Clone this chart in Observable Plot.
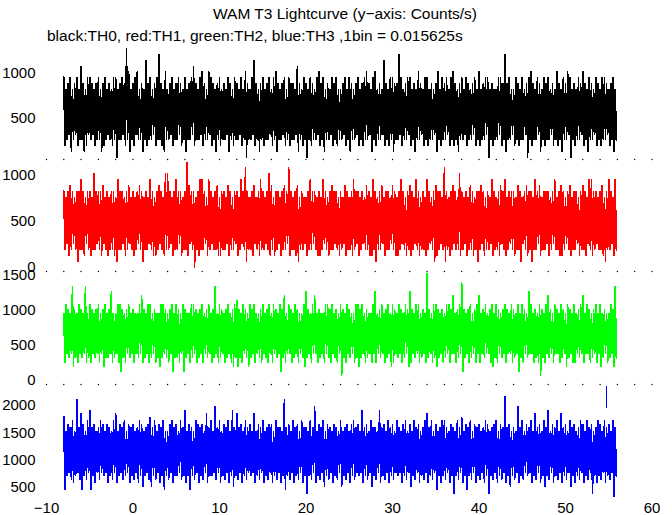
<!DOCTYPE html>
<html>
<head>
<meta charset="utf-8">
<script src="https://cdn.jsdelivr.net/npm/d3@7"></script>
<script src="https://cdn.jsdelivr.net/npm/@observablehq/plot@0.6"></script>
<style>
  html, body { margin: 0; padding: 0; background: #fff; }
  #wrap { position: relative; width: 672px; height: 515px; font-family: "Liberation Sans", Arial, sans-serif; }
  #wrap svg { position: absolute; left: 0; top: 0; background: transparent; }
  .ttl { position: absolute; font-size: 15.5px; color: #000; white-space: nowrap; line-height: 1; }
</style>
</head>
<body>
<div id="wrap">
  <div class="ttl" id="title" style="left:0;width:690px;text-align:center;top:6px;">WAM T3 Lightcurve (y&#8722;axis: Counts/s)</div>
  <div class="ttl" id="sub" style="left:47px;top:28px;">black:TH0, red:TH1, green:TH2, blue:TH3 ,1bin = 0.015625s</div>
</div>
<script>
// ---- data: per 0.25 s segment, highest and lowest counts in a 1/64 s bin ----
const binSize = 0.015625;           // s
const tStart = -8, segStep = 0.25;  // s

const th0Hi = [
  15,13,14,15,13,14,15,13,17,14,13,15,15,14,13,14,
  15,13,14,15,13,14,13,15,15,13,14,15,14,20,16,13,
  14,15,16,13,14,13,18,14,15,13,14,15,19,14,13,16,
  13,14,15,13,14,15,14,13,15,13,14,15,17,14,13,15,
  16,14,13,16,15,14,13,14,15,13,14,13,15,14,13,15,
  14,13,15,13,16,14,13,15,18,14,13,14,15,13,14,15,
  13,15,16,14,13,14,15,13,15,14,14,13,17,14,13,15,
  14,13,15,14,13,15,16,14,15,13,14,13,15,14,15,13,
  13,14,15,13,15,14,13,14,15,13,14,15,16,14,13,15,
  16,13,14,13,18,14,13,15,15,14,14,19,15,13,14,15,
  15,13,14,13,16,14,13,15,15,13,14,13,14,16,13,15,
  14,15,13,15,16,14,13,14,15,13,15,14,13,14,15,13,
  16,13,14,15,15,13,14,13,13,15,15,14,19,14,15,13,
  13,15,14,13,15,13,14,15,16,14,13,15,14,13,15,14,
  15,13,14,13,16,14,13,15,14,16,15,13,14,13,15,14,
  16,14,13,15,14,13,15,14,13,15,15,14,13,14,15,13];
const th0Lo = [
  3,4,5,2,4,5,3,4,4,2,3,5,4,5,3,4,
  4,2,3,4,5,4,3,4,1,4,4,5,3,4,2,4,
  3,5,4,4,2,4,3,4,4,5,3,4,4,3,2,4,
  4,5,3,4,4,5,3,4,2,4,4,5,3,4,4,5,
  3,4,4,5,3,4,2,4,3,4,4,5,2,4,3,4,
  4,5,3,4,1,4,4,5,3,4,2,4,3,4,4,5,
  3,4,2,4,4,5,3,4,3,4,4,5,2,4,3,4,
  1,4,3,4,4,5,3,4,2,4,4,5,3,4,3,4,
  4,5,3,4,2,4,4,5,3,4,3,4,4,5,2,4,
  3,4,4,5,3,4,3,4,2,4,4,5,3,4,4,5,
  3,4,2,4,4,5,3,4,3,4,4,5,2,4,3,4,
  4,5,3,4,3,4,2,4,4,5,3,4,4,5,3,4,
  3,4,4,5,1,4,3,4,4,5,3,4,2,4,4,5,
  3,4,3,4,4,5,1,4,3,4,4,5,2,4,3,4,
  4,5,3,4,3,4,2,4,4,5,1,4,3,4,4,5,
  3,4,2,4,4,5,3,4,3,4,4,5,3,4,2,4];

const th1Hi = [
  13,12,13,14,13,12,13,13,15,13,12,13,13,12,16,13,
  13,13,14,12,13,12,13,13,12,15,13,13,12,13,14,12,
  13,12,13,14,13,12,13,12,15,13,12,13,14,13,12,16,
  16,13,12,13,15,13,13,12,13,18,14,13,13,12,13,15,
  15,13,12,15,13,12,13,14,12,13,13,12,14,13,12,13,
  13,12,15,13,17,13,12,13,14,12,13,15,13,12,13,16,
  14,12,13,13,12,13,14,13,17,13,12,13,14,12,13,12,
  12,13,15,13,13,12,13,12,15,13,12,13,14,13,13,12,
  13,12,14,13,12,13,15,13,13,12,13,12,14,13,12,15,
  13,12,13,14,12,13,13,12,14,13,12,13,15,13,12,13,
  14,13,12,15,13,12,13,12,15,13,12,13,14,13,13,12,
  17,13,12,13,14,13,12,16,13,12,13,12,14,13,12,13,
  13,14,13,12,13,12,15,13,12,13,14,13,15,12,13,13,
  13,12,14,13,12,13,14,13,13,12,15,13,14,12,13,13,
  13,12,13,15,12,13,14,13,12,13,14,12,13,13,12,13,
  14,13,12,15,15,13,13,12,13,14,12,13,15,13,12,15];
const th1Lo = [
  3,4,2,3,4,3,1,3,3,2,4,3,2,3,3,4,
  3,2,4,3,2,3,3,2,1,3,3,4,2,3,4,3,
  2,3,4,3,1,3,3,4,3,2,2,3,4,3,2,3,
  3,4,2,3,3,4,2,3,3,2,4,3,0,3,2,3,
  3,4,2,3,4,3,3,2,2,3,3,4,2,3,3,4,
  2,3,4,3,1,3,3,2,4,3,2,3,3,4,3,2,
  3,2,3,4,2,3,3,4,2,3,3,2,1,3,3,4,
  2,3,3,4,3,2,2,3,4,3,2,3,3,4,3,2,
  3,4,2,3,3,2,3,4,2,3,4,3,3,2,2,3,
  1,3,3,4,2,3,3,4,3,2,2,3,4,3,2,3,
  2,3,4,3,2,3,3,2,3,4,3,1,2,3,4,3,
  1,3,2,3,4,3,3,2,3,4,2,3,3,2,3,1,
  3,4,2,3,3,4,2,3,3,2,4,3,2,3,4,3,
  2,3,3,1,4,3,2,3,1,3,3,4,2,3,3,4,
  2,3,4,3,3,2,2,3,4,3,2,3,3,4,2,3,
  3,2,4,3,2,3,4,3,3,2,1,3,3,4,2,3];

const th2Hi = [
  15,17,16,15,21,16,15,17,16,15,21,15,17,16,15,16,
  17,15,16,17,15,16,20,15,15,17,17,16,15,16,17,15,
  16,15,15,17,19,16,15,17,17,15,16,15,15,17,17,16,
  15,16,17,15,17,16,15,17,16,15,15,17,17,16,15,16,
  17,15,16,17,15,16,21,15,17,16,15,16,17,15,16,17,
  18,16,15,17,16,15,17,16,17,15,15,16,17,15,16,17,
  15,17,16,15,17,16,19,15,17,16,15,17,16,15,15,17,
  20,16,15,17,19,15,16,15,15,17,17,16,17,15,16,15,
  17,16,15,17,16,15,15,17,17,16,17,15,16,15,15,17,
  20,15,16,17,15,16,17,15,17,16,15,17,16,15,17,16,
  20,16,15,17,17,15,16,15,24,16,15,17,17,16,15,16,
  15,17,17,16,19,15,16,17,22,16,15,16,17,15,16,17,
  19,15,16,17,15,16,17,15,17,16,15,16,17,16,15,17,
  16,15,17,15,17,16,15,20,17,15,16,15,17,16,15,17,
  19,16,15,17,16,15,17,16,15,17,16,15,17,15,16,17,
  19,15,17,16,15,16,17,15,17,15,16,15,15,17,16,21];
const th2Lo = [
  4,6,5,6,3,5,4,6,5,6,4,5,4,6,5,6,
  4,6,3,5,5,6,4,5,6,4,2,5,4,6,5,6,
  4,6,5,6,4,5,6,4,5,6,4,5,3,5,6,5,
  4,6,2,5,5,4,6,2,5,6,4,5,6,4,5,6,
  4,6,5,6,4,5,6,4,5,6,4,5,6,4,3,5,
  3,5,4,6,5,3,5,6,4,6,5,4,6,5,4,6,
  4,6,5,6,2,5,4,6,6,4,5,6,4,6,5,3,
  5,6,4,6,6,4,5,6,4,6,5,4,6,5,4,6,
  1,5,4,6,5,6,4,5,3,5,6,4,5,6,4,6,
  4,6,5,6,4,5,6,3,4,6,5,6,4,5,6,3,
  4,6,5,6,4,5,6,4,5,6,4,5,3,5,6,4,
  5,6,4,6,6,4,5,6,2,5,6,4,5,6,4,6,
  4,6,5,6,6,4,3,5,4,6,5,6,4,6,6,4,
  5,6,2,5,4,6,5,6,6,4,5,4,1,5,4,6,
  5,6,4,6,6,4,5,6,3,5,6,4,4,6,5,6,
  4,6,6,4,5,6,4,6,3,5,6,4,5,6,3,5];

const th3Hi = [
  28,24,26,25,27,24,33,25,29,26,24,27,30,25,26,24,
  25,27,26,24,26,25,24,27,29,24,26,25,27,24,26,25,
  26,24,25,27,26,24,25,26,28,25,27,24,26,25,27,24,
  24,26,27,25,26,24,27,25,30,24,26,25,24,27,26,25,
  26,24,29,25,27,24,31,25,27,24,26,25,27,24,30,25,
  29,25,26,24,27,25,26,24,29,24,26,25,27,24,25,26,
  26,24,27,25,25,24,33,25,26,24,27,25,26,24,27,25,
  25,24,27,25,31,24,26,25,27,24,26,25,24,26,25,24,
  27,24,25,26,24,26,27,25,26,24,30,25,26,24,27,25,
  25,24,30,25,26,24,27,25,26,24,27,25,24,26,27,24,
  26,24,27,25,26,24,25,27,29,25,27,24,26,24,25,27,
  27,25,24,26,25,24,27,25,28,24,26,25,27,24,26,25,
  26,24,25,27,26,24,25,26,27,24,26,25,34,25,26,24,
  25,24,31,25,27,24,26,25,27,24,29,25,26,24,27,25,
  30,24,26,25,27,24,29,25,26,24,27,25,26,24,25,27,
  26,24,27,25,26,24,25,27,26,24,27,25,26,24,27,25];
const th3Lo = [
  7,11,12,10,9,11,12,10,7,11,10,12,7,11,9,12,
  10,12,11,12,9,11,10,12,9,11,12,10,11,12,9,11,
  10,12,9,11,8,11,12,10,8,11,10,12,9,11,7,11,
  10,12,9,11,11,12,10,11,9,11,7,11,10,12,9,11,
  10,12,9,11,11,12,10,12,9,11,10,12,9,11,8,11,
  10,12,9,11,10,12,11,12,9,11,10,12,9,11,10,12,
  9,11,10,12,9,11,7,11,10,12,9,11,10,12,9,11,
  6,11,10,12,9,11,10,12,8,11,10,12,9,11,10,12,
  8,11,10,12,9,11,10,12,11,12,9,11,10,12,8,11,
  10,12,9,11,10,12,9,11,10,12,11,12,9,11,10,12,
  8,11,10,12,9,11,10,12,9,11,10,12,7,11,9,11,
  10,12,9,11,6,11,10,12,9,11,7,11,10,12,9,11,
  10,12,9,11,6,11,10,12,9,11,10,12,9,11,8,11,
  10,12,9,11,10,12,11,12,9,11,10,12,9,11,8,11,
  10,12,9,11,10,12,9,11,10,12,8,11,9,11,10,12,
  9,11,10,12,6,11,9,11,10,12,9,11,10,12,5,11];

// stray TH3 stroke near the end (counts/s)
const th3StrayT = [54.7];
const th3StrayLo = [1943];
const th3StrayHi = [2345];

// axes
const xTicks = [-10, 0, 10, 20, 30, 40, 50, 60];
const xMinorTicks = [-10,-8,-6,-4,-2,0,2,4,6,8,10,12,14,16,18,20,22,24,26,28,30,32,34,36,38,40,42,44,46,48,50,52,54,56,58,60];
const panelNames = ["TH0", "TH1", "TH2", "TH3"];
const panelColors = ["#000000", "#ff0000", "#00ff00", "#0000ff"];
const panelYTicks = [[500, 1000], [0, 500, 1000], [0, 500, 1000, 1500], [500, 1000, 1500, 2000]];
const panelYDomains = [[44, 1300], [-43, 1174], [-57, 1557], [371, 2382]];
// ---- end of data ----

const panelHi = [th0Hi, th1Hi, th2Hi, th3Hi];
const panelLo = [th0Lo, th1Lo, th2Lo, th3Lo];
const panelTops = [46, 159, 271, 384];
const panelBottoms = [159, 271, 384, 494];

function rowsFor(hi, lo) {
  const rows = [];
  for (let i = 0; i < hi.length; i++) {
    const t = tStart + segStep * i;
    rows.push({t, rate: hi[i] / binSize});
    rows.push({t: t + segStep / 2, rate: lo[i] / binSize});
  }
  return rows;
}

const W = 672, H = 515;
const wrap = document.getElementById("wrap");
for (let p = 0; p < 4; p++) {
  const rows = rowsFor(panelHi[p], panelLo[p]);
  const dom = panelYDomains[p];
  const marks = [
    Plot.line(rows, {x: "t", y: "rate", stroke: panelColors[p], strokeWidth: 1.6, strokeLinejoin: "miter", strokeMiterlimit: 1, shapeRendering: "crispEdges"}),
  ];
  if (p < 3) {
    marks.push(Plot.dot(xMinorTicks, {x: d => d, y: dom[0], r: 0.7, fill: "#000", stroke: null}));
  }
  if (p === 3) {
    marks.push(Plot.ruleX(th3StrayT, {x: d => d, y1: (d, i) => th3StrayLo[i], y2: (d, i) => th3StrayHi[i], stroke: panelColors[p], strokeWidth: 1, shapeRendering: "crispEdges"}));
  }
  marks.push(Plot.axisY({ticks: panelYTicks[p], tickSize: 0, tickPadding: 11, fontSize: 15, label: null, tickFormat: d => String(d)}));
  if (p === 3) {
    marks.push(Plot.axisX({ticks: xTicks, tickSize: 0, tickPadding: 8, fontSize: 15, label: null}));
  }
  const chart = Plot.plot({
    width: W, height: H,
    marginLeft: 46, marginRight: 20.5,
    marginTop: panelTops[p], marginBottom: H - panelBottoms[p],
    x: {domain: [-10, 60], axis: null},
    y: {domain: dom, axis: null},
    style: {fontFamily: "'Liberation Sans', Arial, sans-serif", fontSize: "15px", background: "transparent", color: "#000", overflow: "visible"},
    marks
  });
  wrap.appendChild(chart);
}
</script>
</body>
</html>
